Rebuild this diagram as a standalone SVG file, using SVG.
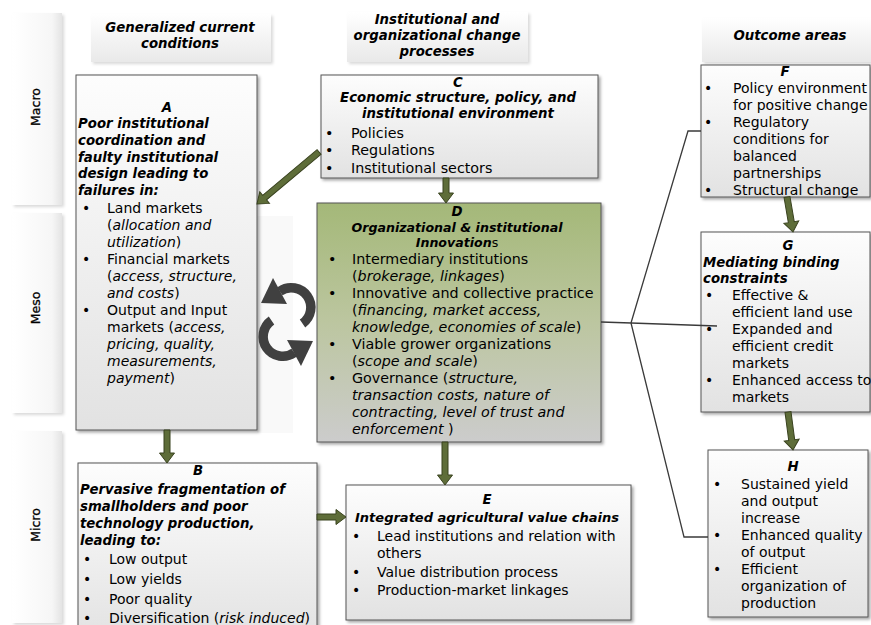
<svg xmlns="http://www.w3.org/2000/svg" width="871" height="625" viewBox="0 0 871 625">
<defs>
<linearGradient id="gBox" x1="0" y1="0" x2="0" y2="1"><stop offset="0" stop-color="#fdfdfd"/><stop offset="1" stop-color="#e2e2e2"/></linearGradient>
<linearGradient id="gHead" x1="0" y1="0" x2="0" y2="1"><stop offset="0" stop-color="#ffffff"/><stop offset="1" stop-color="#e9e9e9"/></linearGradient>
<linearGradient id="gBand" x1="0" y1="0" x2="1" y2="0"><stop offset="0" stop-color="#ffffff"/><stop offset="0.8" stop-color="#f6f6f6"/><stop offset="1" stop-color="#e4e4e4"/></linearGradient>
<linearGradient id="gD" x1="0" y1="0" x2="0" y2="1"><stop offset="0" stop-color="#a4b878"/><stop offset="0.5" stop-color="#bcc6a0"/><stop offset="1" stop-color="#cccccc"/></linearGradient>
<filter id="sh" x="-10%" y="-10%" width="130%" height="130%"><feDropShadow dx="2" dy="2" stdDeviation="1.5" flood-color="#000" flood-opacity="0.35"/></filter>
<filter id="shs" x="-10%" y="-10%" width="130%" height="130%"><feDropShadow dx="2" dy="2" stdDeviation="1.5" flood-color="#000" flood-opacity="0.15"/></filter>
</defs>
<style>
.box{fill:url(#gBox);stroke:#555;stroke-width:1;filter:url(#sh)}
.head{fill:url(#gHead);filter:url(#shs)}
.band{fill:url(#gBand);filter:url(#shs)}
text{font-family:"DejaVu Sans",Verdana,sans-serif;font-size:14px;fill:#000}
.bt{font-weight:bold;font-style:italic;font-size:13.3px}
.c{text-anchor:middle}
.i{font-style:italic}
.side{font-size:12.5px;fill:#000;stroke:#000;stroke-width:0.3}
.arr{fill:#5e6d39;stroke:#39421f;stroke-width:1}
.ln{fill:none;stroke:#3a3a3a;stroke-width:1.3}
</style>
<rect x="0" y="0" width="871" height="625" fill="#ffffff"/>

<g id="bands">
<rect class="band" x="12" y="13" width="50" height="192"/>
<text class="side c" transform="translate(40,107) rotate(-90)">Macro</text>
<rect class="band" x="12" y="213" width="50" height="200"/>
<text class="side c" transform="translate(40,308) rotate(-90)">Meso</text>
<rect class="band" x="12" y="431" width="50" height="192"/>
<text class="side c" transform="translate(40,525) rotate(-90)">Micro</text>
</g>

<g id="headers">
<rect class="head" x="91" y="14" width="180" height="48"/>
<text class="bt c" x="180" y="32">Generalized current</text>
<text class="bt c" x="180" y="48">conditions</text>
<rect class="head" x="347" y="12" width="181" height="50"/>
<text class="bt c" x="437" y="24">Institutional and</text>
<text class="bt c" x="437" y="40">organizational change</text>
<text class="bt c" x="437" y="56">processes</text>
<rect class="head" x="702" y="18" width="169" height="44"/>
<text class="bt c" x="790" y="40">Outcome areas</text>
</g>

<rect x="257" y="216" width="36" height="217" fill="#f9f9f9"/>

<g id="nodeA">
<rect class="box" x="76" y="75" width="181" height="355"/>
<text class="bt c" x="167" y="112">A</text>
<text class="bt" x="78" y="128">Poor institutional</text>
<text class="bt" x="78" y="145">coordination and</text>
<text class="bt" x="78" y="162">faulty institutional</text>
<text class="bt" x="78" y="178">design leading to</text>
<text class="bt" x="78" y="195">failures in:</text>
<text y="213"><tspan x="82">•</tspan><tspan x="107">Land markets</tspan></text>
<text x="107" y="230">(<tspan class="i">allocation and</tspan></text>
<text x="107" y="247"><tspan class="i">utilization</tspan>)</text>
<text y="264"><tspan x="82">•</tspan><tspan x="107">Financial markets</tspan></text>
<text x="107" y="281">(<tspan class="i">access, structure,</tspan></text>
<text x="107" y="298"><tspan class="i">and costs</tspan>)</text>
<text y="315"><tspan x="82">•</tspan><tspan x="107">Output and Input</tspan></text>
<text x="107" y="332">markets (<tspan class="i">access,</tspan></text>
<text x="107" y="349" class="i">pricing, quality,</text>
<text x="107" y="366" class="i">measurements,</text>
<text x="107" y="383"><tspan class="i">payment</tspan>)</text>
</g>

<g id="nodeC">
<rect class="box" x="321" y="75" width="277" height="103"/>
<text class="bt c" x="458" y="87">C</text>
<text class="bt c" x="458" y="102">Economic structure, policy, and</text>
<text class="bt c" x="458" y="118">institutional environment</text>
<text y="138" style="font-size:14.3px"><tspan x="325">•</tspan><tspan x="351">Policies</tspan></text>
<text y="155" style="font-size:14.3px"><tspan x="325">•</tspan><tspan x="351">Regulations</tspan></text>
<text y="173" style="font-size:14.3px"><tspan x="325">•</tspan><tspan x="351">Institutional sectors</tspan></text>
</g>

<g id="nodeD">
<rect x="317" y="203" width="284" height="239" fill="url(#gD)" stroke="#555" stroke-width="1" filter="url(#sh)"/>
<text class="bt c" x="457" y="216">D</text>
<text class="bt c" x="457" y="232" style="font-size:12.6px">Organizational &amp; institutional</text>
<text class="bt c" x="457" y="247" style="font-size:12.6px">Innovation<tspan style="font-weight:normal;font-style:normal">s</tspan></text>
<text y="264" style="font-size:14.3px"><tspan x="328">•</tspan><tspan x="352">Intermediary institutions</tspan></text>
<text x="352" y="281" style="font-size:14.3px">(<tspan class="i">brokerage, linkages</tspan>)</text>
<text y="298" style="font-size:14.3px"><tspan x="328">•</tspan><tspan x="352">Innovative and collective practice</tspan></text>
<text x="352" y="315" style="font-size:14.3px">(<tspan class="i">financing, market access,</tspan></text>
<text x="352" y="332" style="font-size:14.3px"><tspan class="i">knowledge, economies of scale</tspan>)</text>
<text y="349" style="font-size:14.3px"><tspan x="328">•</tspan><tspan x="352">Viable grower organizations</tspan></text>
<text x="352" y="366" style="font-size:14.3px">(<tspan class="i">scope and scale</tspan>)</text>
<text y="383" style="font-size:14.3px"><tspan x="328">•</tspan><tspan x="352">Governance (<tspan class="i">structure,</tspan></tspan></text>
<text x="352" y="400" class="i" style="font-size:14.3px">transaction costs, nature of</text>
<text x="352" y="417" class="i" style="font-size:14.3px">contracting, level of trust and</text>
<text x="352" y="434" style="font-size:14.3px"><tspan class="i">enforcement </tspan>)</text>
</g>

<g id="nodeB">
<rect class="box" x="78" y="463" width="239" height="180"/>
<text class="bt c" x="198" y="475">B</text>
<text class="bt" x="80" y="494">Pervasive fragmentation of</text>
<text class="bt" x="80" y="511">smallholders and poor</text>
<text class="bt" x="80" y="528">technology production,</text>
<text class="bt" x="80" y="545">leading to:</text>
<text y="564"><tspan x="83">•</tspan><tspan x="109">Low output</tspan></text>
<text y="584"><tspan x="83">•</tspan><tspan x="109">Low yields</tspan></text>
<text y="604"><tspan x="83">•</tspan><tspan x="109">Poor quality</tspan></text>
<text y="623"><tspan x="83">•</tspan><tspan x="109">Diversification (<tspan class="i">risk induced</tspan>)</tspan></text>
</g>

<g id="nodeE">
<rect class="box" x="346" y="485" width="285" height="135"/>
<text class="bt c" x="487" y="504">E</text>
<text class="bt c" x="487" y="522" style="font-size:13px">Integrated agricultural value chains</text>
<text y="541"><tspan x="352">•</tspan><tspan x="377">Lead institutions and relation with</tspan></text>
<text x="377" y="558">others</text>
<text y="577"><tspan x="352">•</tspan><tspan x="377">Value distribution process</tspan></text>
<text y="595"><tspan x="352">•</tspan><tspan x="377">Production-market linkages</tspan></text>
</g>

<g id="nodeF">
<rect class="box" x="701" y="65" width="169" height="132"/>
<text class="bt c" x="785" y="76">F</text>
<text y="93"><tspan x="704">•</tspan><tspan x="733">Policy environment</tspan></text>
<text x="733" y="110">for positive change</text>
<text y="127"><tspan x="704">•</tspan><tspan x="733">Regulatory</tspan></text>
<text x="733" y="144">conditions for</text>
<text x="733" y="161">balanced</text>
<text x="733" y="178">partnerships</text>
<text y="195"><tspan x="704">•</tspan><tspan x="733">Structural change</tspan></text>
</g>

<g id="nodeG">
<rect class="box" x="701" y="232" width="169" height="180"/>
<text class="bt c" x="788" y="250">G</text>
<text class="bt" x="703" y="267">Mediating binding</text>
<text class="bt" x="703" y="283">constraints</text>
<text y="300"><tspan x="705">•</tspan><tspan x="732">Effective &amp;</tspan></text>
<text x="732" y="317">efficient land use</text>
<text y="334"><tspan x="705">•</tspan><tspan x="732">Expanded and</tspan></text>
<text x="732" y="351">efficient credit</text>
<text x="732" y="368">markets</text>
<text y="385"><tspan x="705">•</tspan><tspan x="732">Enhanced access to</tspan></text>
<text x="732" y="402">markets</text>
</g>

<g id="nodeH">
<rect class="box" x="708" y="450" width="160" height="167"/>
<text class="bt c" x="793" y="471">H</text>
<text y="489"><tspan x="713">•</tspan><tspan x="741">Sustained yield</tspan></text>
<text x="741" y="506">and output</text>
<text x="741" y="523">increase</text>
<text y="540"><tspan x="713">•</tspan><tspan x="741">Enhanced quality</tspan></text>
<text x="741" y="557">of output</text>
<text y="574"><tspan x="713">•</tspan><tspan x="741">Efficient</tspan></text>
<text x="741" y="591">organization of</text>
<text x="741" y="608">production</text>
</g>

<g id="cycle" fill="#404040">
<g>
<path d="M 302.5 323.5 A 19.5 19.5 0 0 0 279.8 291.3" fill="none" stroke="#404040" stroke-width="9.5"/>
<polygon points="273,278 287,304 261,303"/>
</g>
<g transform="rotate(180 287 322)">
<path d="M 302.5 323.5 A 19.5 19.5 0 0 0 279.8 291.3" fill="none" stroke="#404040" stroke-width="9.5"/>
<polygon points="273,278 287,304 261,303"/>
</g>
</g>

<g id="connectors">
<polyline class="ln" points="601,322 631,323 688,131 701,131"/>
<polyline class="ln" points="631,323 717,326"/>
<polyline class="ln" points="631,323 684,537 708,537"/>
<polygon class="arr" transform="translate(319,152) rotate(140)" points="0,-3 71,-3 71,-7.5 81,0 71,7.5 71,3 0,3"/>
<polygon class="arr" transform="translate(446,178) rotate(90)" points="0,-3 15,-3 15,-7.5 25,0 15,7.5 15,3 0,3"/>
<polygon class="arr" transform="translate(167,430) rotate(90)" points="0,-3 23,-3 23,-7.5 33,0 23,7.5 23,3 0,3"/>
<polygon class="arr" transform="translate(445,442) rotate(90)" points="0,-3 33,-3 33,-7.5 43,0 33,7.5 33,3 0,3"/>
<polygon class="arr" transform="translate(317,517)" points="0,-3 19,-3 19,-7.5 29,0 19,7.5 19,3 0,3"/>
<polygon class="arr" transform="translate(787,197) rotate(80.3)" points="0,-3 25.5,-3 25.5,-7.5 35.5,0 25.5,7.5 25.5,3 0,3"/>
<polygon class="arr" transform="translate(788,412) rotate(82.5)" points="0,-3 28.3,-3 28.3,-7.5 38.3,0 28.3,7.5 28.3,3 0,3"/>
</g>
</svg>
